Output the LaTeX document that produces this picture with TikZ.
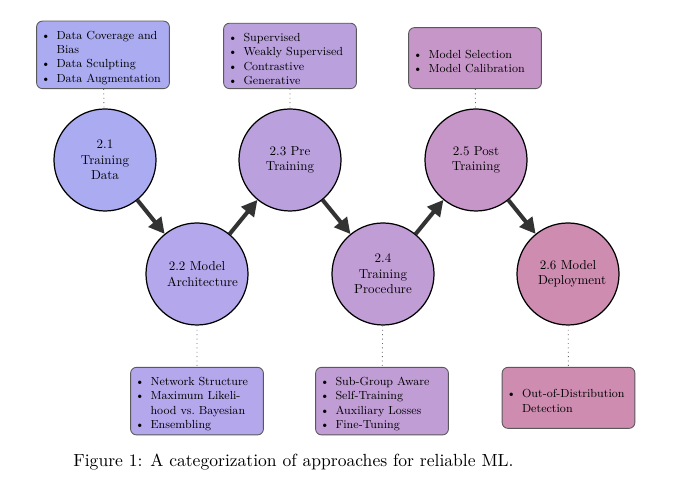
\documentclass[tikz,border=0pt]{standalone}
\usepackage{enumitem}
\usetikzlibrary{arrows.meta}

\definecolor{colA}{RGB}{171,171,242}
\definecolor{colB}{RGB}{180,167,235}
\definecolor{colC}{RGB}{186,161,222}
\definecolor{colD}{RGB}{193,157,214}
\definecolor{colE}{RGB}{199,150,200}
\definecolor{colF}{RGB}{205,140,176}

\newcommand{\stagefont}{\normalsize\hyphenpenalty=10000\relax}
\newcommand{\methodfont}{\small\raggedright\hyphenpenalty=0\relax}
\newenvironment{methods}{\begin{itemize}[nosep,leftmargin=11.5pt,labelsep=4.7pt]}{\end{itemize}}

\begin{document}
\begin{tikzpicture}[
  stage/.style = {circle, draw=black, line width=0.7pt, scale=0.74, minimum size=2.757cm,
                  inner sep=0pt, text width=1.62cm, align=center, font=\stagefont},
  methodbox/.style = {rectangle, rounded corners=3.4pt, draw=black!65, line width=0.5pt,
                  scale=0.74, text width=3.32cm, inner xsep=0.135cm, inner ysep=0.108cm,
                  minimum height=1.65cm, font=\methodfont},
  flow/.style = {-{Triangle[length=9pt,width=9pt]}, line width=2.3pt, black!80},
  link/.style = {dotted, black!60, line width=0.5pt}
]
\useasboundingbox (0,0) rectangle (13.6,10);

% stages
\node [stage, fill=colA] (train) at (2.10,6.80) {2.1 Training Data};
\node [stage, fill=colB] (arch) at (3.94,4.52) {2.2 Model Architecture};
\node [stage, fill=colC] (pre) at (5.80,6.80) {2.3 Pre Training};
\node [stage, fill=colD] (proc) at (7.66,4.52) {2.4 Training Procedure};
\node [stage, fill=colE] (post) at (9.52,6.80) {2.5 Post Training};
\node [stage, fill=colF] (deploy) at (11.36,4.52) {2.6 Model Deployment};

% approaches
\node [methodbox, fill=colA, anchor=south] (trainlist) at (2.06,8.22) {\begin{methods}
  \item Data Coverage and Bias
  \item Data Sculpting
  \item Data Augmentation
\end{methods}};
\node [methodbox, fill=colB, anchor=north] (archlist) at (3.94,2.66) {\begin{methods}
  \item Network Structure
  \item Maximum Likeli\-hood vs.\ Bayesian
  \item Ensembling
\end{methods}};
\node [methodbox, fill=colC, anchor=south] (prelist) at (5.80,8.22) {\begin{methods}
  \item Supervised
  \item Weakly Supervised
  \item Contrastive
  \item Generative
\end{methods}};
\node [methodbox, fill=colD, anchor=north] (proclist) at (7.64,2.66) {\begin{methods}
  \item Sub-Group Aware
  \item Self-Training
  \item Auxiliary Losses
  \item Fine-Tuning
\end{methods}};
\node [methodbox, fill=colE, anchor=south] (postlist) at (9.50,8.22) {\begin{methods}
  \item Model Selection
  \item Model Calibration
\end{methods}};
\node [methodbox, fill=colF, anchor=north] (deploylist) at (11.37,2.66) {\begin{methods}
  \item Out-of-Distribution Detection
\end{methods}};

\draw [flow] (train) -- (arch);
\draw [flow] (arch) -- (pre);
\draw [flow] (pre) -- (proc);
\draw [flow] (proc) -- (post);
\draw [flow] (post) -- (deploy);

\draw [link] (trainlist) -- (train);
\draw [link] (arch) -- (archlist);
\draw [link] (prelist) -- (pre);
\draw [link] (proc) -- (proclist);
\draw [link] (postlist) -- (post);
\draw [link] (deploy) -- (deploylist);

\node [anchor=west, inner sep=0pt] (caption) at (1.46,0.76)
  {Figure 1: A categorization of approaches for reliable ML.};
\end{tikzpicture}
\end{document}
